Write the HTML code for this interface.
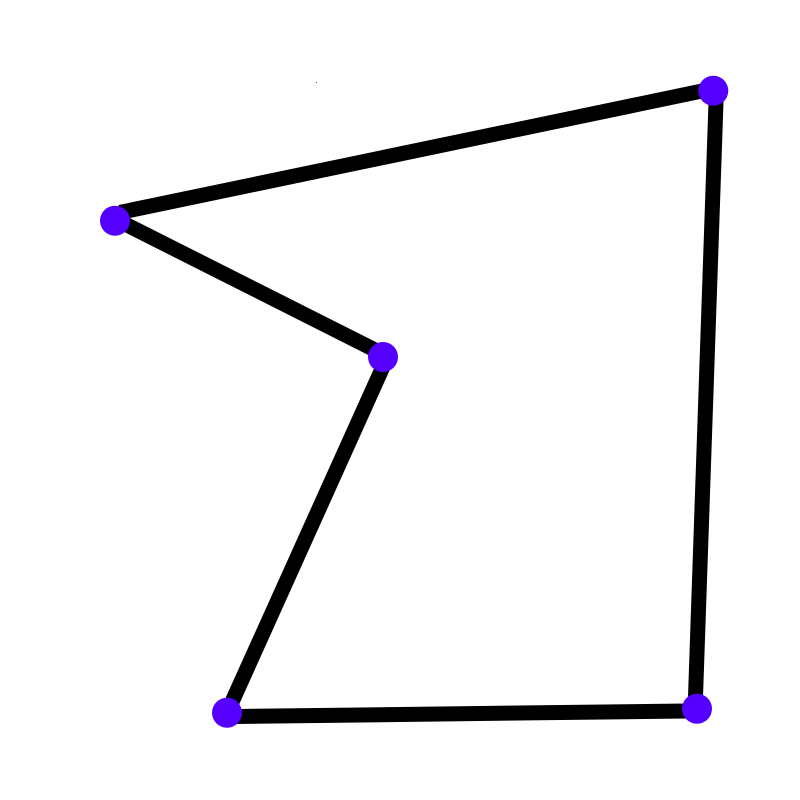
<!DOCTYPE html>
<html lang="en">
<head>
<meta charset="utf-8">
<title>Closed polygon line chart</title>
<style>
  html, body { margin: 0; padding: 0; background: #ffffff; }
  #chart { display: block; width: 800px; height: 800px; }
</style>
</head>
<body>
<svg id="chart" xmlns="http://www.w3.org/2000/svg" width="800" height="800" viewBox="0 0 800 800">
  <rect x="0" y="0" width="800" height="800" fill="#ffffff"></rect>
  <rect x="316" y="82" width="1" height="1" fill="#444444"></rect>
  <g id="lines"></g>
  <g id="points"></g>
</svg>
<script>
const pointNames = ['top-left', 'top-right', 'bottom-right', 'bottom-left', 'middle'];
const xValues = [1.4375, 8.916, 8.7125, 2.8375, 4.7875];
const yValues = [7.241, 8.866, 1.141, 1.091, 5.5375];

const segmentNames = ['top', 'right', 'bottom', 'lower-left', 'upper-left'];
const segmentStartX = [1.5, 8.955, 8.7125, 2.8375, 4.7875];
const segmentStartY = [7.345, 8.866, 1.114, 1.0875, 5.575];
const segmentEndX = [8.9125, 8.6875, 2.8375, 4.8425, 1.475];
const segmentEndY = [8.891, 1.1125, 1.0425, 5.5375, 7.244];

const SVG_NS = 'http://www.w3.org/2000/svg';
const xDomain = [0, 10];
const yDomain = [0, 10];
const plotSize = 800;

function xScale(v) {
  return (v - xDomain[0]) / (xDomain[1] - xDomain[0]) * plotSize;
}
function yScale(v) {
  return plotSize - (v - yDomain[0]) / (yDomain[1] - yDomain[0]) * plotSize;
}

const linesGroup = document.getElementById('lines');
const pointsGroup = document.getElementById('points');

for (let i = 0; i < segmentNames.length; i++) {
  const seg = document.createElementNS(SVG_NS, 'line');
  seg.setAttribute('x1', xScale(segmentStartX[i]));
  seg.setAttribute('y1', yScale(segmentStartY[i]));
  seg.setAttribute('x2', xScale(segmentEndX[i]));
  seg.setAttribute('y2', yScale(segmentEndY[i]));
  seg.setAttribute('stroke', '#000000');
  seg.setAttribute('stroke-width', '15');
  seg.setAttribute('stroke-linecap', 'butt');
  
  
  linesGroup.appendChild(seg);
}

for (let i = 0; i < xValues.length; i++) {
  const dot = document.createElementNS(SVG_NS, 'circle');
  dot.setAttribute('cx', xScale(xValues[i]));
  dot.setAttribute('cy', yScale(yValues[i]));
  dot.setAttribute('r', '15');
  dot.setAttribute('fill', '#5500ff');
  
  
  pointsGroup.appendChild(dot);
}
</script>
</body>
</html>
